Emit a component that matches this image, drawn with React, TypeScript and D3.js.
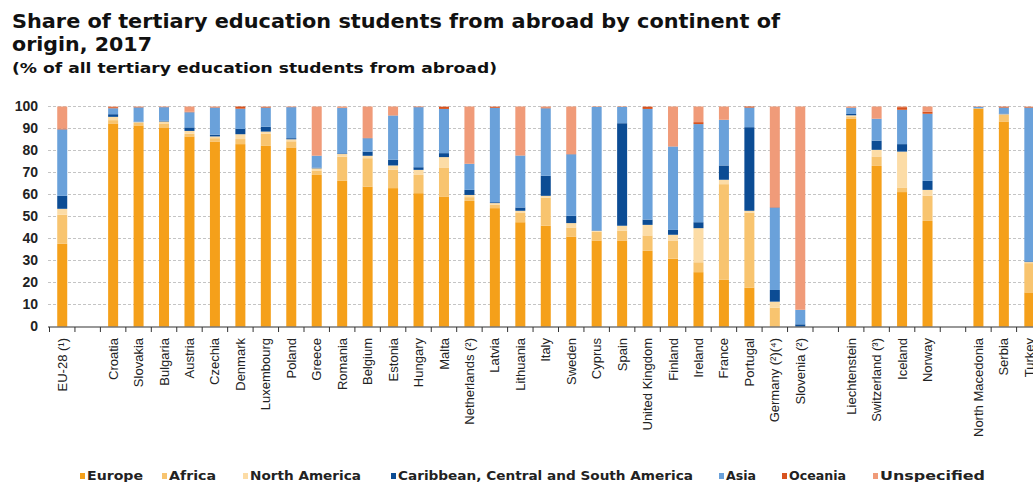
import React from "react";
import * as d3 from "d3";

const categories = [
  "EU-28 (¹)", "gap1", "Croatia", "Slovakia", "Bulgaria", "Austria", "Czechia", "Denmark",
  "Luxembourg", "Poland", "Greece", "Romania", "Belgium", "Estonia", "Hungary", "Malta",
  "Netherlands (²)", "Latvia", "Lithuania", "Italy", "Sweden", "Cyprus", "Spain",
  "United Kingdom", "Finland", "Ireland", "France", "Portugal", "Germany (²)(⁴)",
  "Slovenia (²)", "gap2", "Liechtenstein", "Switzerland (³)", "Iceland", "Norway", "gap3",
  "North Macedonia", "Serbia", "Turkey",
];

const seriesNames = [
  "Europe", "Africa", "North America", "Caribbean, Central and South America",
  "Asia", "Oceania", "Unspecified",
];

const europe = [37.6, 0, 92.3, 91.4, 90.5, 86.4, 84.1, 82.9, 82.1, 81.4, 68.9, 66.2, 63.6, 62.9, 60.6, 59.1, 57.1, 53.8, 47.4, 45.8, 40.9, 39.1, 39.1, 34.4, 30.8, 24.7, 21.2, 17.7, 0, 0, 0, 94.4, 73.0, 61.1, 48.0, 0, 98.9, 93.2, 15.5];
const africa = [13.2, 0, 1.5, 1.2, 1.8, 1.2, 1.5, 2.3, 5.5, 2.8, 2.0, 11.0, 12.9, 8.3, 8.3, 13.2, 1.7, 1.5, 4.2, 12.8, 4.1, 4.0, 4.5, 7.0, 8.3, 4.5, 43.5, 34.1, 8.6, 0, 0, 0.8, 4.3, 2.1, 11.4, 0, 0.1, 3.0, 13.3];
const northAmerica = [2.7, 0, 1.5, 0.3, 0.9, 1.3, 0.8, 2.2, 1.0, 0.9, 1.0, 1.2, 1.1, 2.0, 2.3, 4.7, 1.0, 0.8, 1.0, 0.8, 2.0, 0.4, 2.2, 4.8, 2.6, 15.5, 2.0, 0.8, 2.7, 0, 0, 0.8, 3.0, 16.3, 2.7, 0, 0.2, 0.3, 0.5];
const caribbean = [5.9, 0, 1.2, 0.2, 0.3, 1.6, 0.8, 2.4, 2.2, 0.5, 0.3, 0.3, 1.9, 2.6, 1.2, 1.8, 2.3, 0.4, 1.5, 9.1, 3.3, 0.2, 46.6, 2.4, 2.2, 2.7, 6.5, 38.0, 5.3, 1.0, 0, 0.6, 4.2, 3.4, 4.1, 0, 0.1, 0.3, 0.3];
const asia = [30.2, 0, 2.7, 6.5, 6.2, 6.9, 12.3, 9.2, 8.7, 14.1, 5.4, 20.6, 6.1, 20.1, 27.3, 20.1, 11.8, 42.9, 23.6, 30.7, 28.0, 56.1, 7.4, 50.3, 37.9, 44.6, 20.7, 8.9, 37.5, 6.6, 0, 2.8, 9.9, 15.6, 30.5, 0, 0.5, 2.7, 69.9];
const oceania = [0.4, 0, 0.5, 0.2, 0.1, 0.2, 0.2, 1.0, 0.3, 0.1, 0.1, 0.2, 0.1, 0.1, 0.2, 1.0, 0.1, 0.5, 0.1, 0.4, 0.1, 0.1, 0.1, 1.0, 0.1, 0.9, 0.1, 0.5, 0.2, 0, 0, 0.2, 0.1, 1.2, 1.0, 0, 0.1, 0.4, 0.3];
const unspecified = [10.0, 0, 0.3, 0.2, 0.2, 2.4, 0.3, 0, 0.2, 0.2, 22.3, 0.5, 14.3, 4.0, 0.1, 0.1, 26.0, 0.1, 22.2, 0.4, 21.6, 0.1, 0.1, 0.1, 18.1, 7.1, 6.0, 0, 45.7, 92.4, 0, 0.4, 5.5, 0.3, 2.3, 0, 0.1, 0.1, 0.2];

const colors = ["#F5A01A", "#F8C46F", "#FCDCA6", "#0C4C94", "#6AA1DA", "#D8531F", "#F09B79"];
const yTicks = [0, 10, 20, 30, 40, 50, 60, 70, 80, 90, 100];

const W = 1033;
const H = 482;
const FONT = "'Liberation Sans', Arial, sans-serif";
const WIDE = "'DejaVu Sans', Verdana, sans-serif";

export default function App() {
  const series = [europe, africa, northAmerica, caribbean, asia, oceania, unspecified];
  const rows = categories.map((c, i) => {
    const r: any = { cat: c };
    seriesNames.forEach((s, k) => (r[s] = series[k][i]));
    return r;
  });
  const stacked = d3.stack().keys(seriesNames)(rows);

  const step = 25.45;
  const x0 = 49.5;
  const band = d3.scaleBand().domain(categories).range([x0, x0 + step * categories.length]);
  const y = d3.scaleLinear().domain([0, 100]).range([326.5, 106.5]);

  const bw = 10;

  const legendX = [80, 162, 243, 391, 719, 782, 873];
  const legendW = [56, 47, 111, 295, 30, 57, 105];

  return (
    <svg
      width={W}
      height={H}
      style={{ position: "absolute", left: 0, top: 0, background: "#fff" }}
      fontFamily={FONT}
    >
      <text x={12} y={28} fontSize={20} fontWeight="bold" fill="#111" fontFamily={WIDE}
        textLength={768} lengthAdjust="spacingAndGlyphs">
        Share of tertiary education students from abroad by continent of
      </text>
      <text x={12} y={51} fontSize={20} fontWeight="bold" fill="#111" fontFamily={WIDE}
        textLength={140} lengthAdjust="spacingAndGlyphs">
        origin, 2017
      </text>
      <text x={12} y={73} fontSize={14.5} fill="#111" fontWeight="bold" fontFamily={WIDE}
        textLength={485} lengthAdjust="spacingAndGlyphs">
        (% of all tertiary education students from abroad)
      </text>

      {yTicks.map((t) => (
        <g key={t}>
          {t > 0 && (
            <line
              x1={48}
              x2={W}
              y1={y(t)}
              y2={y(t)}
              stroke="#c4c4c4"
              strokeWidth={1}
              strokeDasharray="3,2"
            />
          )}
          <text
            x={38}
            y={y(t)}
            dy="0.35em"
            textAnchor="end"
            fontSize={14}
            fontWeight="bold"
            fill="#222"
          >
            {t}
          </text>
        </g>
      ))}

      {stacked.map((layer, k) => (
        <g key={layer.key} fill={colors[k]}>
          {layer.map((d, i) => {
            const h = y(d[0]) - y(d[1]);
            if (h <= 0) return null;
            const cx = (band(categories[i]) as number) + band.bandwidth() / 2;
            return (
              <rect
                key={i}
                x={cx - bw / 2}
                width={bw}
                y={y(d[1])}
                height={h}
              />
            );
          })}
        </g>
      ))}

      <line x1={48} x2={W} y1={327} y2={327} stroke="#333" strokeWidth={1.2} />
      {categories.map((c, i) => (
        <line
          key={"t" + i}
          x1={(band(c) as number)}
          x2={(band(c) as number)}
          y1={327}
          y2={332}
          stroke="#333"
          strokeWidth={1}
        />
      ))}

      {categories.map((c, i) => {
        if (c.startsWith("gap")) return null;
        const cx = (band(c) as number) + band.bandwidth() / 2;
        return (
          <text
            key={"l" + i}
            transform={`translate(${cx},338) rotate(-90)`}
            textAnchor="end"
            dy="0.35em"
            fontSize={13}
            fill="#222"
          >
            {c}
          </text>
        );
      })}

      {seriesNames.map((s, k) => (
        <g key={s}>
          <rect x={legendX[k]} y={473} width={5} height={6} fill={colors[k]} />
          <text x={legendX[k] + 7} y={480} fontSize={12.5} fontWeight="bold" fill="#222"
            fontFamily={WIDE} textLength={legendW[k]} lengthAdjust="spacingAndGlyphs">
            {s}
          </text>
        </g>
      ))}
    </svg>
  );
}
